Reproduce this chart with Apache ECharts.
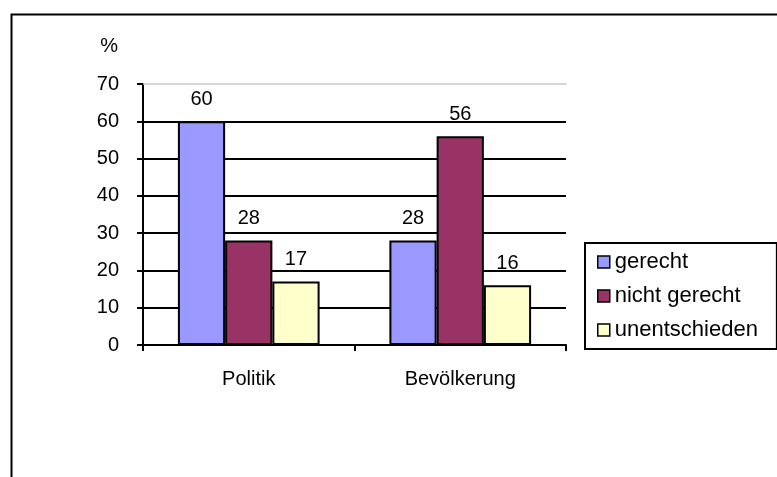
<!DOCTYPE html>
<html>
<head>
<meta charset="utf-8">
<script src="https://cdn.jsdelivr.net/npm/echarts@6/dist/echarts.min.js"></script>
<style>html,body{margin:0;padding:0;background:#fff}#c{width:777px;height:477px}</style>
</head>
<body>
<div id="c"></div>
<script>
var categories = ['Politik', 'Bevölkerung'];
var seriesNames = ['gerecht', 'nicht gerecht', 'unentschieden'];
var gerecht = [60, 28];
var nichtGerecht = [28, 56];
var unentschieden = [17, 16];
var yTicks = [0, 10, 20, 30, 40, 50, 60, 70];

var colors = ['#9999FF', '#993366', '#FFFFCC'];
var FONT = '"Liberation Sans", Arial, sans-serif';
var values = [gerecht, nichtGerecht, unentschieden];

var chart = echarts.init(document.getElementById('c'), null, {renderer: 'canvas'});
chart.setOption({
  animation: false,
  backgroundColor: '#fff',
  textStyle: {fontFamily: FONT, color: '#000'},
  graphic: [{
    type: 'rect', left: 9, top: 12, silent: true,
    shape: {x: 0, y: 0, width: 900, height: 900},
    style: {fill: 'none', stroke: '#000', lineWidth: 2}
  }],
  grid: {left: 143, right: 211, top: 84, bottom: 132, containLabel: false},
  legend: {
    orient: 'vertical', left: 585, top: 243,
    padding: [8, 19, 8, 12],
    itemWidth: 12, itemHeight: 12, itemGap: 12,
    borderColor: '#000', borderWidth: 2,
    icon: 'rect',
    itemStyle: {borderColor: '#000', borderWidth: 1.5},
    textStyle: {fontFamily: FONT, fontSize: 22, color: '#000'},
    data: seriesNames
  },
  xAxis: [{
    type: 'category', data: categories,
    axisLine: {lineStyle: {color: '#000', width: 2}},
    axisTick: {show: true, alignWithLabel: false, length: 6, lineStyle: {color: '#000', width: 2}},
    axisLabel: {fontFamily: FONT, fontSize: 20, color: '#000', margin: 24},
    splitLine: {show: false}
  }, {
    type: 'category', data: categories, position: 'top',
    axisLine: {show: true, lineStyle: {color: '#c8c8c8', width: 1.5}},
    axisTick: {show: false}, axisLabel: {show: false}, splitLine: {show: false}
  }],
  yAxis: {
    type: 'value', min: 0, max: 70, interval: 10,
    name: '%', nameLocation: 'end', nameGap: 28,
    nameTextStyle: {fontFamily: FONT, fontSize: 20, color: '#000', align: 'right', padding: [0, 25, 0, 0]},
    axisLine: {show: true, lineStyle: {color: '#000', width: 2}},
    axisTick: {show: true, length: 6, lineStyle: {color: '#000', width: 2}},
    axisLabel: {fontFamily: FONT, fontSize: 20, color: '#000', margin: 24,
      formatter: function (v) { return yTicks.indexOf(v) >= 0 ? String(v) : ''; }},
    splitLine: {show: true, showMaxLine: false, lineStyle: {color: '#000', width: 2}}
  },
  series: seriesNames.map(function (n, i) {
    return {
      name: n, type: 'bar', data: values[i],
      barGap: '0%', barCategoryGap: '33%',
      itemStyle: {color: colors[i], borderColor: '#000', borderWidth: 2},
      label: {show: true, position: 'top', distance: 12, fontFamily: FONT, fontSize: 20, color: '#000'}
    };
  })
});
</script>
</body>
</html>
